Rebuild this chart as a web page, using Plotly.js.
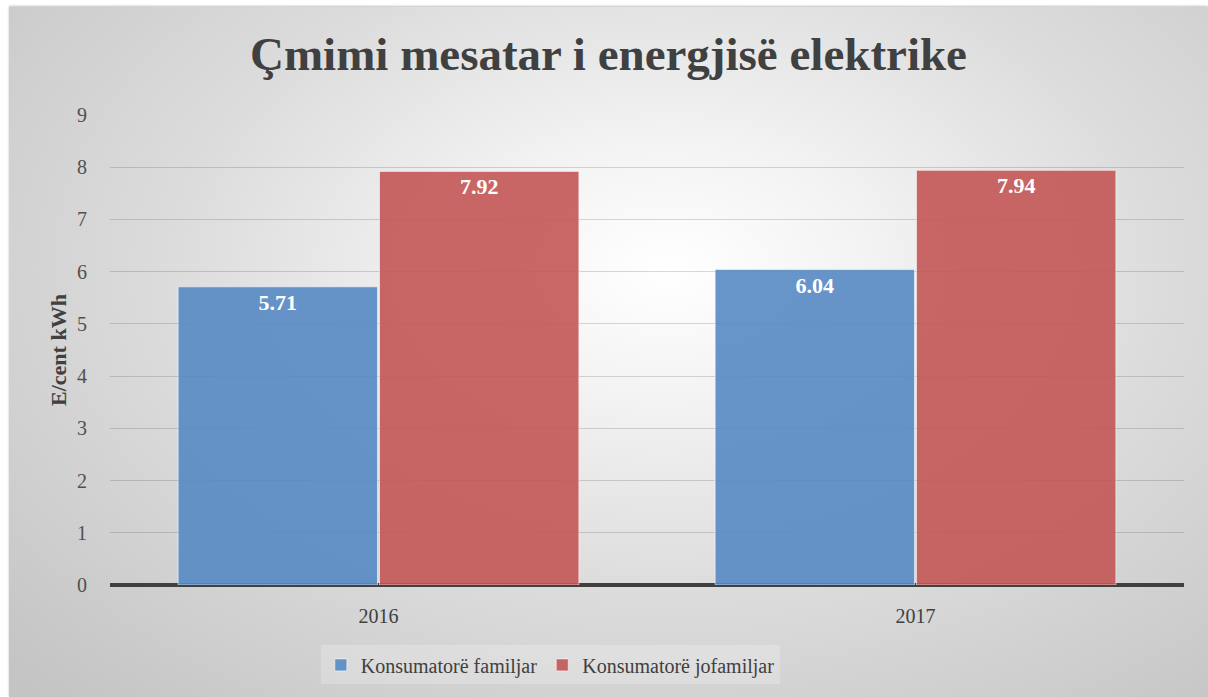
<!DOCTYPE html>
<html>
<head>
<meta charset="utf-8">
<script src="https://cdn.plot.ly/plotly-3.0.1.min.js"></script>
<style>
  html, body { margin: 0; padding: 0; background: #ffffff; width: 1208px; height: 697px; overflow: hidden; }
  #frame { position: absolute; left: 9px; top: 7px; width: 1199px; height: 690px;
    background: radial-gradient(ellipse 75% 85% at 55% 38%, #ffffff 0%, #f3f3f3 22%, #dcdcdc 55%, #c4c4c4 100%);
    box-shadow: 0 -1px 2px rgba(0,0,0,0.25); }
  #chart { width: 1199px; height: 690px; }
</style>
</head>
<body>
<div id="frame"><div id="chart"></div></div>
<script>
const categories = ["2016", "2017"];
const familjar = [5.71, 6.04];
const jofamiljar = [7.92, 7.94];
const seriesNames = ["Konsumatorë familjar", "Konsumatorë jofamiljar"];
const titleText = "Çmimi mesatar i energjisë elektrike";
const yTitle = "E/cent kWh";
const yTicks = [0, 1, 2, 3, 4, 5, 6, 7, 8, 9];

const serif = "Liberation Serif, DejaVu Serif, serif";

const labelFont = { family: serif, size: 22, color: "#ffffff", weight: "bold" };

const traces = [
  {
    type: "bar", name: seriesNames[0], x: categories, y: familjar,
    text: familjar.map(v => v.toFixed(2)), textposition: "inside", insidetextanchor: "end",
    textfont: labelFont, textangle: 0,
    marker: { color: "rgba(88,138,195,0.9)", line: { color: "rgba(255,255,255,0.55)", width: 1 } },
    hoverinfo: "skip"
  },
  {
    type: "bar", name: seriesNames[1], x: categories, y: jofamiljar,
    text: jofamiljar.map(v => v.toFixed(2)), textposition: "inside", insidetextanchor: "end",
    textfont: labelFont, textangle: 0,
    marker: { color: "rgba(195,86,85,0.9)", line: { color: "rgba(255,255,255,0.55)", width: 1 } },
    hoverinfo: "skip"
  }
];

const layout = {
  width: 1199, height: 690,
  paper_bgcolor: "rgba(0,0,0,0)", plot_bgcolor: "rgba(0,0,0,0)",
  margin: { l: 101, r: 24, t: 108, b: 112 },
  barmode: "group", bargap: 0.25, bargroupgap: 0.01,
  title: { text: "<b>" + titleText + "</b>", font: { family: serif, size: 47, color: "#404040" },
           x: 0.5, xanchor: "center", y: 0.932, yanchor: "middle", xref: "container" },
  xaxis: {
    type: "category", showgrid: false, showline: false, ticks: "",
    tickfont: { family: serif, size: 20, color: "#404040" },
    ticklabelstandoff: 17
  },
  yaxis: {
    range: [0, 9], tickvals: yTicks, ticktext: yTicks.map(String),
    showgrid: true, gridcolor: "rgba(0,0,0,0.15)", gridwidth: 1,
    zeroline: true, zerolinecolor: "#404040", zerolinewidth: 4,
    showline: false, ticks: "",
    tickfont: { family: serif, size: 20, color: "#505050" },
    ticklabelstandoff: 22,
    title: { text: "<b>" + yTitle + "</b>", font: { family: serif, size: 22, color: "#404040" }, standoff: 4 }
  },
  legend: {
    orientation: "h", x: 0.41, xanchor: "center", y: -0.17, yanchor: "middle",
    font: { family: serif, size: 20, color: "#404040" },
    bgcolor: "rgba(255,255,255,0.22)", itemwidth: 30, traceorder: "normal"
  },
  showlegend: true,
  font: { family: serif }
};

Plotly.newPlot("chart", traces, layout, { displayModeBar: false, staticPlot: true });
</script>
</body>
</html>
